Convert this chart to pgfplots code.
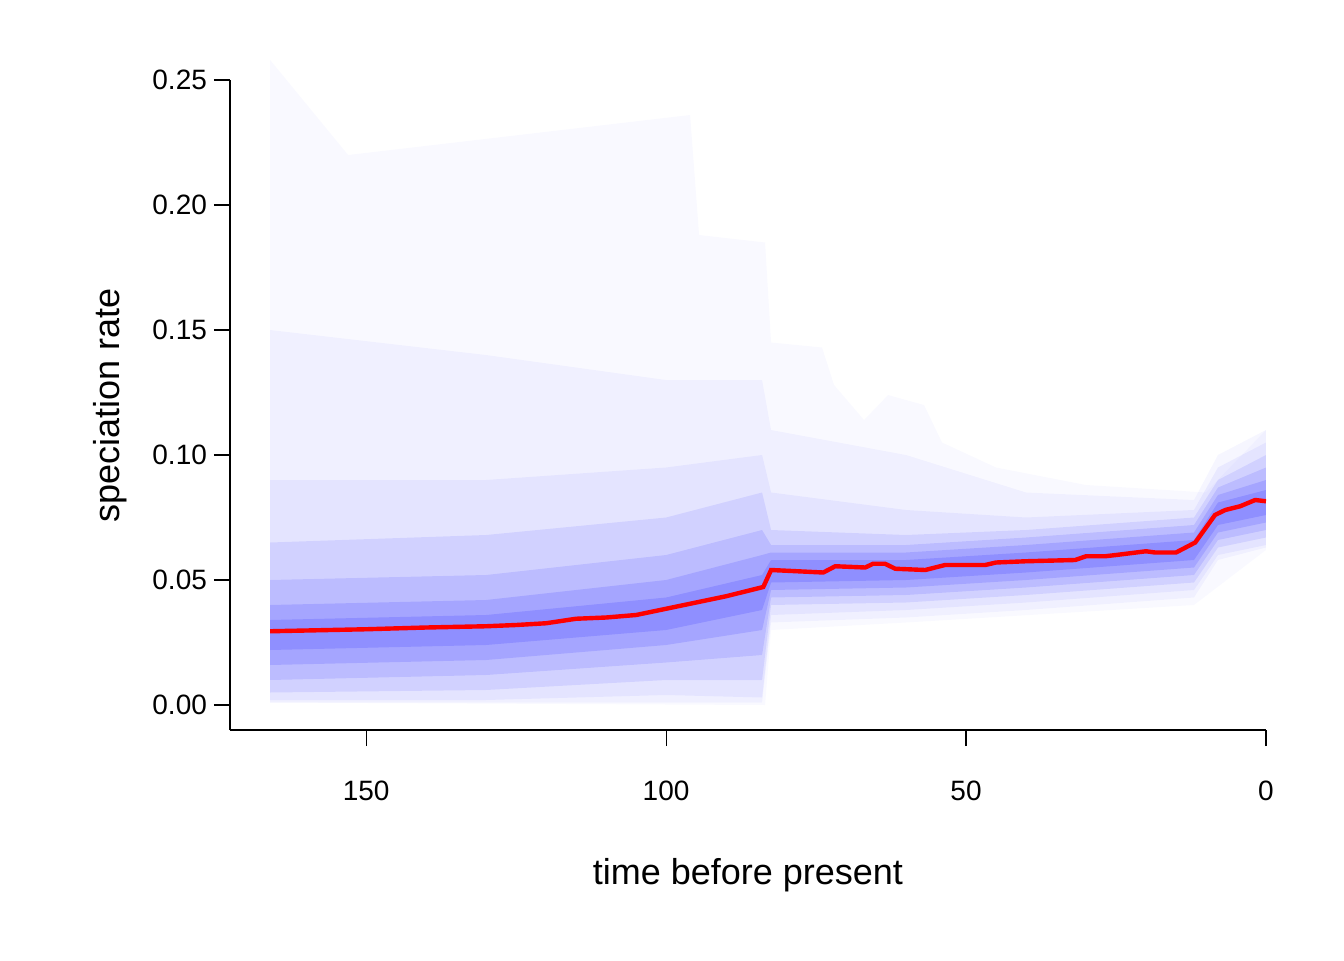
\documentclass[border=0pt]{standalone}
\usepackage{fontspec}
\setmainfont{Liberation Sans}
\usepackage{pgfplots}
\pgfplotsset{compat=1.18}
\definecolor{bb}{rgb}{0.3,0.3,1}
\begin{document}
\begin{tikzpicture}
\useasboundingbox (-115pt,-115pt) rectangle (557pt,365pt);
\begin{axis}[scale only axis, width=518pt, height=325pt, anchor=south west, at={(0,0)},
 x dir=reverse, xmin=0, xmax=172.7, ymin=-0.01, ymax=0.25,
 axis x line*=bottom, axis y line*=left, axis line style={-,line width=0.6pt},
 tick align=outside, major tick length=8pt, tick style={line width=0.6pt,black},
 xtick={0,50,100,150}, ytick={0,0.05,0.1,0.15,0.2,0.25},
 y tick label style={/pgf/number format/fixed, /pgf/number format/fixed zerofill, /pgf/number format/precision=2},
 /pgf/number format/assume math mode=true,
 ticklabel style={font=\fontsize{14}{16}\selectfont},
 xticklabel style={yshift=-14pt},
 xlabel={time before present}, ylabel={speciation rate},
 label style={font=\fontsize{18}{20}\selectfont},
 xlabel style={yshift=-22pt}, ylabel style={yshift=6pt},
 clip=false]
\addplot[draw=none, fill=bb, fill opacity=0.03] coordinates {(166,.258)(153,.22)(96,.236)(94.5,.188)(83.5,.185)(82.5,.145)(74,.143)(72,.128)(67,.114)(63,.124)(57,.12)(54,.105)(45,.095)(30,.088)(10,.085)(0,.11)
 (0,.062)(12,.040)(60,.033)(82.5,.030)(83.5,.0)(166,.001)} -- cycle;
\addplot[draw=none, fill=bb, fill opacity=0.05] coordinates {(166,.150)(130,.140)(100,.130)(84,.130)(82.5,.110)(60,.100)(40,.085)(12,.082)(8,.100)(0,.110)
 (0,.063)(8,.058)(12,.043)(40,.038)(60,.035)(82.5,.033)(84,.001)(100,.001)(130,.001)(166,.001)} -- cycle;
\addplot[draw=none, fill=bb, fill opacity=0.08] coordinates {(166,.090)(130,.090)(100,.095)(84,.100)(82.5,.085)(60,.078)(40,.075)(12,.078)(8,.095)(0,.105)
 (0,.064)(8,.060)(12,.046)(40,.041)(60,.038)(82.5,.036)(84,.003)(100,.004)(130,.002)(166,.002)} -- cycle;
\addplot[draw=none, fill=bb, fill opacity=0.12] coordinates {(166,.065)(130,.068)(100,.075)(84,.085)(82.5,.070)(60,.068)(40,.070)(12,.075)(8,.090)(0,.100)
 (0,.067)(8,.063)(12,.049)(40,.044)(60,.041)(82.5,.040)(84,.010)(100,.010)(130,.006)(166,.005)} -- cycle;
\addplot[draw=none, fill=bb, fill opacity=0.16] coordinates {(166,.050)(130,.052)(100,.060)(84,.070)(82.5,.064)(60,.064)(40,.067)(12,.072)(8,.087)(0,.095)
 (0,.070)(8,.066)(12,.052)(40,.047)(60,.044)(82.5,.043)(84,.020)(100,.017)(130,.012)(166,.010)} -- cycle;
\addplot[draw=none, fill=bb, fill opacity=0.2] coordinates {(166,.040)(130,.042)(100,.050)(84,.060)(82.5,.061)(60,.061)(40,.064)(12,.069)(8,.084)(0,.090)
 (0,.073)(8,.069)(12,.055)(40,.050)(60,.047)(82.5,.046)(84,.030)(100,.024)(130,.018)(166,.016)} -- cycle;
\addplot[draw=none, fill=bb, fill opacity=0.25] coordinates {(166,.034)(130,.036)(100,.043)(84,.052)(82.5,.058)(60,.058)(40,.061)(12,.066)(8,.081)(0,.086)
 (0,.076)(8,.072)(12,.058)(40,.053)(60,.050)(82.5,.049)(84,.038)(100,.030)(130,.024)(166,.022)} -- cycle;
\addplot[red, line width=2.2pt] coordinates {(166,.0295)(160,.0298)(150,.0303)(140,.031)(130,.0315)(125,.032)(120,.0327)(115,.0345)(110,.035)(105,.036)(100,.0385)(95,.041)(90,.0435)(83.8,.0472)(82.5,.054)(73.8,.053)(71.8,.0555)(66.8,.055)(65.5,.0565)(63.5,.0565)(61.8,.0545)(56.8,.054)(53.5,.056)(46.8,.056)(45,.057)(40,.0575)(31.8,.058)(30,.0595)(26.8,.0595)(25,.060)(20,.0615)(18.5,.061)(15,.061)(11.8,.065)(8.5,.076)(6.8,.078)(4.3,.0795)(1.8,.082)(0,.0815)};
\end{axis}
\end{tikzpicture}
\end{document}
